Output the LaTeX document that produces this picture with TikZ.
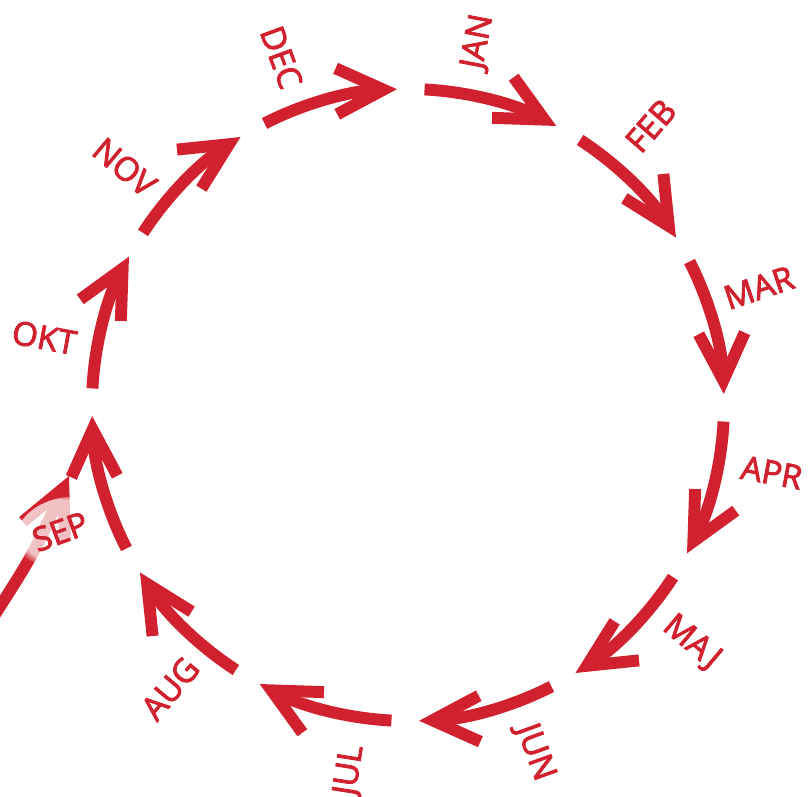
\documentclass[tikz,border=0pt]{standalone}
\usepackage{fontspec}
\setmainfont{Open Sans}
\newfontfamily\monfont{Open Sans}[FakeBold=2.6]
\usepackage{tikz}
\usetikzlibrary{arrows.meta}
\usetikzlibrary{fadings}
\definecolor{kalred}{RGB}{210,33,46}

\begin{document}
\begin{tikzpicture}[
  mon/.style={kalred, line width=3.4pt,
    -{Straight Barb[length=0.47cm,width=0.46cm,line join=miter]}},
  lbl/.style={kalred, inner sep=0pt, font=\fontsize{9.4}{10}\monfont}
]
  \useasboundingbox (-4.08,-3.92) rectangle (4.00,4.05);

  % stray arrow behind the september label
  \coordinate (s0) at (-4.16,-2.14);
  \coordinate (s1) at (-3.39,-0.71);
  \draw[mon] (s0) .. controls (-3.75,-1.50) .. (s1);
  \fill[white, fill opacity=0.72, path fading=circle with fuzzy edge 20 percent, rotate around={20:(-3.48,-1.26)}]
    (-3.48,-1.26) ellipse (0.46 and 0.32);

  % the year, clockwise
  \draw[mon] (87:3.16)   arc[start angle=87,   end angle=62,   radius=3.16];
  \draw[mon] (57:3.16)   arc[start angle=57,   end angle=32,   radius=3.16];
  \draw[mon] (27:3.16)   arc[start angle=27,   end angle=2,    radius=3.16];
  \draw[mon] (-3:3.16)   arc[start angle=-3,   end angle=-28,  radius=3.16];
  \draw[mon] (-33:3.16)  arc[start angle=-33,  end angle=-58,  radius=3.16];
  \draw[mon] (-63:3.16)  arc[start angle=-63,  end angle=-88,  radius=3.16];
  \draw[mon] (-93:3.16)  arc[start angle=-93,  end angle=-118, radius=3.16];
  \draw[mon] (-123:3.16) arc[start angle=-123, end angle=-148, radius=3.16];
  \draw[mon] (-153:3.16) arc[start angle=-153, end angle=-178, radius=3.16];
  \draw[mon] (177:3.16)  arc[start angle=177,  end angle=152,  radius=3.16];
  \draw[mon] (147:3.16)  arc[start angle=147,  end angle=122,  radius=3.16];
  \draw[mon] (117:3.16)  arc[start angle=117,  end angle=92,   radius=3.16];

  \node[lbl, rotate=79]    (jan) at (79:3.7)    {JAN};
  \node[lbl, rotate=49]    (feb) at (49:3.7)    {FEB};
  \node[lbl, rotate=18.5]  (mar) at (18.5:3.7)  {MAR};
  \node[lbl, rotate=-10.5] (apr) at (-10.5:3.7) {APR};
  \node[lbl, rotate=-40]   (maj) at (-40:3.7)   {MAJ};
  \node[lbl, rotate=-70]   (jun) at (-70:3.7)   {JUN};
  \node[lbl, rotate=81]    (jul) at (-99:3.7)   {JUL};
  \node[lbl, rotate=50]    (aug) at (-130:3.7)  {AUG};
  \node[lbl, rotate=20]    (sep) at (-160:3.7)  {SEP};
  \node[lbl, rotate=-10.5] (okt) at (169.5:3.7) {OKT};
  \node[lbl, rotate=-40]   (nov) at (140:3.7)   {NOV};
  \node[lbl, rotate=-70]   (dec) at (110:3.7)   {DEC};
\end{tikzpicture}
\end{document}
